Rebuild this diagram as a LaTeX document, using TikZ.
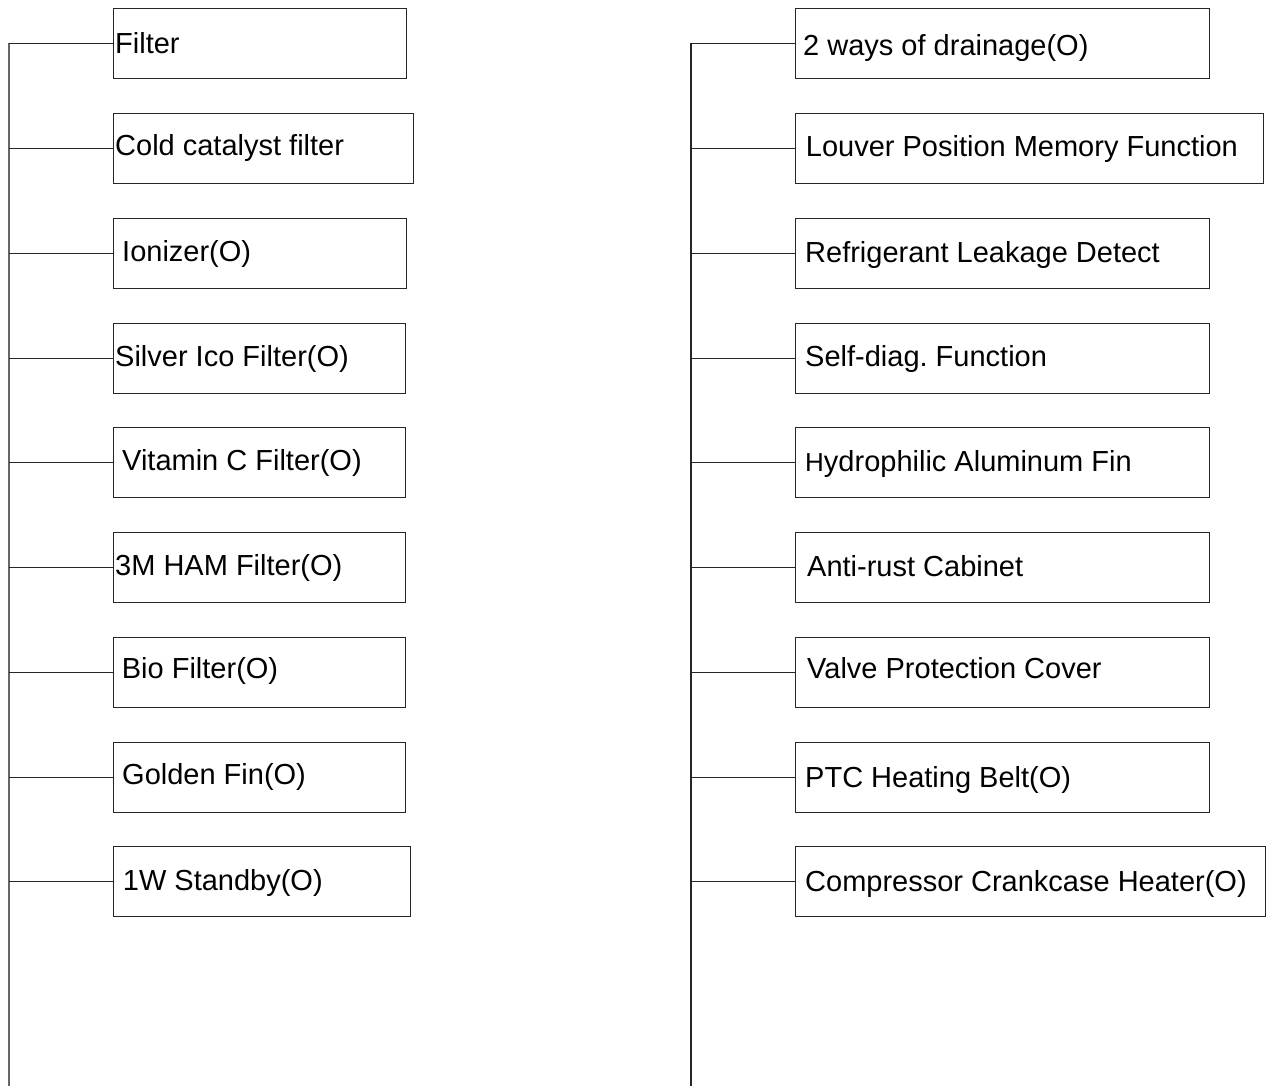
\documentclass[tikz,border=0pt]{standalone}
\usepackage{fontspec}
\setmainfont{Liberation Sans}
\frenchspacing
\begin{document}
\begin{tikzpicture}[x=1pt,y=-1pt,
  box/.style={draw=black!85, line width=1.2pt, rectangle, anchor=north west, minimum height=70pt, inner sep=0pt},
  txt/.style={anchor=base west, inner sep=0pt, font=\fontsize{29}{29}\selectfont},
  conn/.style={draw=black!85, line width=1.2pt},
  trunk/.style={draw=black!60, line width=1.4pt}]
\useasboundingbox[fill=white] (0,0) rectangle (1266,1086);
% left column boxes
\node[box, minimum width=293pt] (l1) at (113,8) {};
\node[box, minimum width=300pt] (l2) at (113,113) {};
\node[box, minimum width=293pt] (l3) at (113,218) {};
\node[box, minimum width=292pt] (l4) at (113,322.5) {};
\node[box, minimum width=292pt] (l5) at (113,427) {};
\node[box, minimum width=292pt] (l6) at (113,532) {};
\node[box, minimum width=292pt] (l7) at (113,637) {};
\node[box, minimum width=292pt] (l8) at (113,741.5) {};
\node[box, minimum width=297pt] (l9) at (113,846) {};
% left texts
\node[txt] (tl1) at ([xshift=2pt,yshift=-10.4pt]l1.west) {Filter};
\node[txt] (tl2) at ([xshift=2pt,yshift=-6.8pt]l2.west) {Cold catalyst filter};
\node[txt] (tl3) at ([xshift=9pt,yshift=-7.4pt]l3.west) {Ionizer(O)};
\node[txt] (tl4) at ([xshift=2pt,yshift=-7.9pt]l4.west) {Silver Ico Filter(O)};
\node[txt] (tl5) at ([xshift=9pt,yshift=-7.4pt]l5.west) {Vitamin C Filter(O)};
\node[txt] (tl6) at ([xshift=2pt,yshift=-7.4pt]l6.west) {3M HAM Filter(O)};
\node[txt] (tl7) at ([xshift=8.7pt,yshift=-5.9pt]l7.west) {Bio Filter(O)};
\node[txt] (tl8) at ([xshift=9pt,yshift=-6.9pt]l8.west) {Golden Fin(O)};
\node[txt] (tl9) at ([xshift=9.7pt,yshift=-9pt]l9.west) {1W Standby(O)};
% right column boxes
\node[box, minimum width=414pt] (r1) at (795,8) {};
\node[box, minimum width=468pt] (r2) at (795,113) {};
\node[box, minimum width=414pt] (r3) at (795,218) {};
\node[box, minimum width=414pt] (r4) at (795,322.5) {};
\node[box, minimum width=414pt] (r5) at (795,427) {};
\node[box, minimum width=414pt] (r6) at (795,532) {};
\node[box, minimum width=414pt] (r7) at (795,637) {};
\node[box, minimum width=414pt] (r8) at (795,741.5) {};
\node[box, minimum width=470pt] (r9) at (795,846) {};
% right texts
\node[txt] (tr1) at ([xshift=8pt,yshift=-12.4pt]r1.west) {2 ways of drainage(O)};
\node[txt] (tr2) at ([xshift=10.7pt,yshift=-7.7pt]r2.west) {Louver Position Memory Function};
\node[txt] (tr3) at ([xshift=10pt,yshift=-8.4pt]r3.west) {Refrigerant Leakage Detect};
\node[txt] (tr4) at ([xshift=10pt,yshift=-7.9pt]r4.west) {Self-diag.\ Function};
\node[txt] (tr5) at ([xshift=10pt,yshift=-8.4pt]r5.west) {{\fontsize{26}{26}\selectfont H}ydrophilic Aluminum Fin};
\node[txt] (tr6) at ([xshift=12pt,yshift=-8.4pt]r6.west) {Anti-rust Cabinet};
\node[txt] (tr7) at ([xshift=12pt,yshift=-6.3pt]r7.west) {Valve Protection Cover};
\node[txt] (tr8) at ([xshift=10pt,yshift=-9.9pt]r8.west) {PTC Heating Belt(O)};
\node[txt] (tr9) at ([xshift=10pt,yshift=-9.4pt]r9.west) {Compressor Crankcase Heater(O)};
% trunks
\coordinate (lt) at (9,43);
\coordinate (lb) at (9,1086);
\coordinate (rt) at (691,43);
\coordinate (rb) at (691,1086);
\draw[trunk] (lt) -- (lb);
\draw[conn] (rt) -- (rb);
% connectors
\foreach \i in {1,...,9} {
  \draw[conn] (l\i.west) -- (lt |- l\i.west);
  \draw[conn] (r\i.west) -- (rt |- r\i.west);
}
\end{tikzpicture}
\end{document}
